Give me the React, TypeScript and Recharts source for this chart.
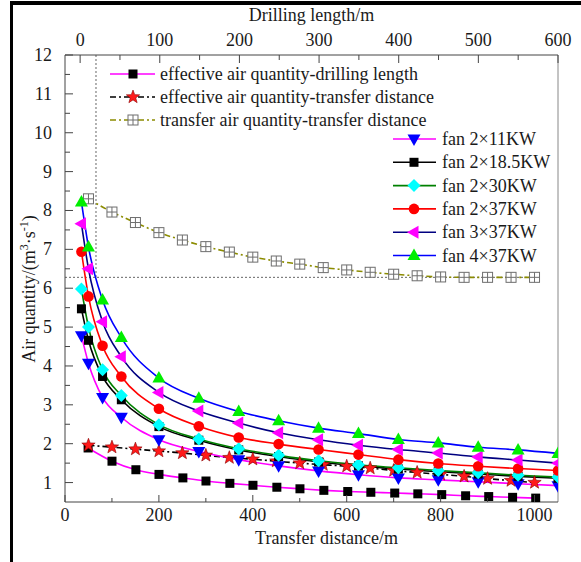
import React from "react";
import { LineChart, Line, XAxis, YAxis, ReferenceLine, Legend } from "recharts";

const FONT = '"Liberation Serif", "Times New Roman", serif';
const TEXT = "#1a1a1a";
const AXIS = "#444";

// transfer distance (m) of the fan curves
const fanDistance = [35, 50, 80, 120, 200, 285, 370, 455, 540, 625, 710, 795, 880, 965, 1050];
const fan2x11 = [4.78, 4.07, 3.19, 2.68, 2.1, 1.8, 1.59, 1.43, 1.3, 1.2, 1.12, 1.07, 1.02, 0.97, 0.92];
const fan2x185 = [5.47, 4.66, 3.73, 3.13, 2.44, 2.09, 1.84, 1.67, 1.53, 1.43, 1.35, 1.28, 1.22, 1.16, 1.11];
const fan2x30 = [5.98, 5.0, 3.9, 3.24, 2.49, 2.12, 1.87, 1.7, 1.56, 1.46, 1.38, 1.31, 1.25, 1.19, 1.14];
const fan2x37 = [6.94, 5.79, 4.52, 3.73, 2.9, 2.45, 2.16, 1.99, 1.85, 1.72, 1.59, 1.49, 1.42, 1.36, 1.31];
const fan3x37 = [7.66, 6.5, 5.14, 4.24, 3.32, 2.84, 2.53, 2.28, 2.1, 1.96, 1.85, 1.76, 1.66, 1.58, 1.5];
const fan4x37 = [8.22, 7.06, 5.7, 4.73, 3.69, 3.17, 2.83, 2.59, 2.4, 2.26, 2.11, 2.02, 1.91, 1.84, 1.75];

// transfer distance (m) of the effective / transfer air quantity curves
const transferDistance = [50, 100, 150, 200, 250, 300, 350, 400, 450, 500, 550, 600, 650, 700, 750, 800, 850, 900, 950, 1000];
const effectiveByTransfer = [1.96, 1.91, 1.86, 1.81, 1.76, 1.7, 1.64, 1.6, 1.55, 1.5, 1.46, 1.42, 1.37, 1.31, 1.26, 1.21, 1.16, 1.1, 1.05, 1.0];
const transferAir = [8.3, 7.96, 7.69, 7.43, 7.24, 7.07, 6.93, 6.8, 6.7, 6.62, 6.53, 6.47, 6.41, 6.36, 6.32, 6.29, 6.28, 6.28, 6.28, 6.28];

// drilling length (m) on the top axis
const drillingLength = [10, 40, 70, 99, 129, 158, 188, 217, 247, 276, 306, 336, 365, 395, 424, 454, 484, 513, 543, 572];
const effectiveByDrilling = [1.89, 1.55, 1.33, 1.21, 1.12, 1.04, 0.98, 0.93, 0.88, 0.84, 0.8, 0.77, 0.75, 0.73, 0.71, 0.69, 0.66, 0.64, 0.62, 0.6];

// axes
const bottomTicks = [0, 100, 200, 300, 400, 500, 600, 700, 800, 900, 1000];
const bottomLabels = [0, 200, 400, 600, 800, 1000];
const topTicks = [0, 50, 100, 150, 200, 250, 300, 350, 400, 450, 500, 550, 600];
const topLabels = [0, 100, 200, 300, 400, 500, 600];
const leftTicks = [1, 1.5, 2, 2.5, 3, 3.5, 4, 4.5, 5, 5.5, 6, 6.5, 7, 7.5, 8, 8.5, 9, 9.5, 10, 10.5, 11, 11.5, 12];
const leftLabels = [1, 2, 3, 4, 5, 6, 7, 8, 9, 10, 11, 12];

// dotted guide lines
const guideDistance = 66;
const guideLevel = 6.28;

type Shape = "up" | "down" | "left" | "circle" | "diamond" | "square" | "star" | "crossSquare";

const zip = (xs: number[], ys: number[]) => xs.map((x, i) => ({ x, y: ys[i] }));

function starPoints(cx: number, cy: number, ro: number, ri: number) {
  const pts: string[] = [];
  for (let i = 0; i < 10; i++) {
    const r = i % 2 === 0 ? ro : ri;
    const a = -Math.PI / 2 + (i * Math.PI) / 5;
    pts.push(`${cx + r * Math.cos(a)},${cy + r * Math.sin(a)}`);
  }
  return pts.join(" ");
}

function Marker({ shape, cx, cy, fill }: { shape: Shape; cx?: number; cy?: number; fill: string }) {
  if (cx == null || cy == null) return null;
  switch (shape) {
    case "up":
      return <polygon points={`${cx},${cy - 7} ${cx + 6.5},${cy + 4.5} ${cx - 6.5},${cy + 4.5}`} fill={fill} />;
    case "down":
      return <polygon points={`${cx - 6.5},${cy - 4.5} ${cx + 6.5},${cy - 4.5} ${cx},${cy + 7}`} fill={fill} />;
    case "left":
      return <polygon points={`${cx - 7},${cy} ${cx + 4.5},${cy - 6.5} ${cx + 4.5},${cy + 6.5}`} fill={fill} />;
    case "circle":
      return <circle cx={cx} cy={cy} r={5.3} fill={fill} />;
    case "diamond":
      return <polygon points={`${cx},${cy - 6.5} ${cx + 6.5},${cy} ${cx},${cy + 6.5} ${cx - 6.5},${cy}`} fill={fill} />;
    case "square":
      return <rect x={cx - 4.5} y={cy - 4.5} width={9} height={9} fill={fill} />;
    case "star":
      return <polygon points={starPoints(cx, cy, 7, 2.9)} fill={fill} stroke="#8a0000" strokeWidth={0.6} />;
    case "crossSquare":
      return (
        <g stroke="#6e6e6e" strokeWidth={1}>
          <rect x={cx - 5} y={cy - 5} width={10} height={10} fill="#fff" />
          <line x1={cx} x2={cx} y1={cy - 5} y2={cy + 5} />
          <line x1={cx - 5} x2={cx + 5} y1={cy} y2={cy} />
        </g>
      );
  }
  return null;
}

const dotOf = (shape: Shape, fill: string) => (p: any) =>
  <Marker key={`m-${p.index}`} shape={shape} cx={p.cx} cy={p.cy} fill={fill} />;

const fanSeries = [
  { name: "fan 2×11KW", values: fan2x11, line: "#ff00ff", shape: "down" as Shape, fill: "#0000ff" },
  { name: "fan 2×18.5KW", values: fan2x185, line: "#000000", shape: "square" as Shape, fill: "#000000" },
  { name: "fan 2×30KW", values: fan2x30, line: "#008000", shape: "diamond" as Shape, fill: "#00ffff" },
  { name: "fan 2×37KW", values: fan2x37, line: "#ff0000", shape: "circle" as Shape, fill: "#ff0000" },
  { name: "fan 3×37KW", values: fan3x37, line: "#000080", shape: "left" as Shape, fill: "#ff00ff" },
  { name: "fan 4×37KW", values: fan4x37, line: "#0000ff", shape: "up" as Shape, fill: "#00ee00" },
];

const otherSeries = [
  { name: "effective air quantity-drilling length", line: "#ff00ff", dash: undefined, shape: "square" as Shape, fill: "#000000" },
  { name: "effective air quantity-transfer distance", line: "#000000", dash: "6 3 2 3", shape: "star" as Shape, fill: "#ff1a1a" },
  { name: "transfer air quantity-transfer distance", line: "#8c8c00", dash: "6 3 2 3", shape: "crossSquare" as Shape, fill: "#fff" },
];

const textProps = { fontFamily: FONT, fontSize: 18, fill: TEXT };

const BottomTick = (p: any) => {
  const major = bottomLabels.includes(p.payload.value);
  return (
    <g>
      <line x1={p.x} x2={p.x} y1={p.y} y2={p.y - (major ? 7 : 4)} stroke={AXIS} />
      {major && (
        <text x={p.x} y={p.y + 19} textAnchor="middle" {...textProps}>
          {p.payload.value}
        </text>
      )}
    </g>
  );
};

const TopTick = (p: any) => {
  const major = topLabels.includes(p.payload.value);
  return (
    <g>
      <line x1={p.x} x2={p.x} y1={p.y} y2={p.y + (major ? 8 : 5)} stroke={AXIS} />
      {major && (
        <text x={p.x} y={p.y - 9} textAnchor="middle" {...textProps}>
          {p.payload.value}
        </text>
      )}
    </g>
  );
};

const LeftTick = (p: any) => {
  const major = leftLabels.includes(p.payload.value);
  return (
    <g>
      <line x1={p.x} x2={p.x + (major ? 8 : 5)} y1={p.y} y2={p.y} stroke={AXIS} />
      {major && (
        <text x={p.x - 13} y={p.y + 6} textAnchor="end" {...textProps}>
          {p.payload.value}
        </text>
      )}
    </g>
  );
};

const BottomTitle = ({ viewBox }: any) => (
  <text x={viewBox.x + viewBox.width / 2 + 15} y={viewBox.y + 42} textAnchor="middle" {...textProps}>
    Transfer distance/m
  </text>
);

const TopTitle = ({ viewBox }: any) => (
  <text x={viewBox.x + viewBox.width / 2} y={viewBox.y + 11} textAnchor="middle" {...textProps}>
    Drilling length/m
  </text>
);

const LeftTitle = ({ viewBox }: any) => {
  const x = viewBox.x + 20;
  const y = 289;
  return (
    <text x={x} y={y} transform={`rotate(-90 ${x} ${y})`} textAnchor="middle" {...textProps}>
      Air quantity/(m
      <tspan dy={-7} fontSize={12}>3</tspan>
      <tspan dy={7}>·s</tspan>
      <tspan dy={-7} fontSize={12}>-1</tspan>
      <tspan dy={7}>)</tspan>
    </text>
  );
};

function LegendOverlay() {
  return (
    <svg width={581} height={562} style={{ position: "absolute", left: 0, top: 0 }}>
      {otherSeries.map((s, i) => {
        const y = 74 + i * 23;
        return (
          <g key={s.name}>
            <line x1={110} x2={155} y1={y} y2={y} stroke={s.line} strokeWidth={1.6} strokeDasharray={s.dash} />
            <Marker shape={s.shape} cx={133} cy={y} fill={s.fill} />
            <text x={160} y={y + 6} {...textProps}>
              {s.name}
            </text>
          </g>
        );
      })}
      {fanSeries.map((s, i) => {
        const y = 139 + i * 23.3;
        return (
          <g key={s.name}>
            <line x1={393} x2={436} y1={y} y2={y} stroke={s.line} strokeWidth={1.6} />
            <Marker shape={s.shape} cx={414} cy={y} fill={s.fill} />
            <text x={442} y={y + 6} {...textProps}>
              {s.name}
            </text>
          </g>
        );
      })}
    </svg>
  );
}

export default function App() {
  return (
    <div style={{ position: "absolute", left: 0, top: 0, width: 581, height: 562, background: "#fff" }}>
      <div
        style={{
          position: "absolute",
          left: 10,
          top: 1,
          right: 0,
          bottom: 0,
          borderTop: "4px solid #000",
          borderLeft: "3px solid #000",
        }}
      />
      <LineChart width={581} height={562} margin={{ top: 10, right: 23, bottom: 10, left: 15 }}>
        <XAxis
          xAxisId="bottom"
          dataKey="x"
          type="number"
          domain={[0, 1050]}
          allowDataOverflow
          ticks={bottomTicks}
          interval={0}
          tickSize={0}
          tickMargin={0}
          tick={BottomTick}
          height={50}
          stroke={AXIS}
          label={<BottomTitle />}
        />
        <XAxis
          xAxisId="top"
          orientation="top"
          dataKey="x"
          type="number"
          domain={[-19, 600]}
          allowDataOverflow
          ticks={topTicks}
          interval={0}
          tickSize={0}
          tickMargin={0}
          tick={TopTick}
          height={45}
          stroke={AXIS}
          label={<TopTitle />}
        />
        <YAxis
          dataKey="y"
          type="number"
          domain={[0.5, 12]}
          allowDataOverflow
          ticks={leftTicks}
          interval={0}
          tickSize={0}
          tickMargin={0}
          tick={LeftTick}
          width={50}
          stroke={AXIS}
          label={<LeftTitle />}
        />
        <ReferenceLine xAxisId="bottom" x={1050} stroke="#888" />
        <ReferenceLine
          xAxisId="bottom"
          segment={[
            { x: guideDistance, y: 12 },
            { x: guideDistance, y: guideLevel },
          ]}
          stroke="#666"
          strokeDasharray="2 2"
        />
        <ReferenceLine
          xAxisId="bottom"
          segment={[
            { x: 0, y: guideLevel },
            { x: 1010, y: guideLevel },
          ]}
          stroke="#666"
          strokeDasharray="2 2"
        />
        <Line
          xAxisId="top"
          data={zip(drillingLength, effectiveByDrilling)}
          dataKey="y"
          type="monotone"
          stroke={otherSeries[0].line}
          strokeWidth={1.6}
          dot={dotOf(otherSeries[0].shape, otherSeries[0].fill)}
          isAnimationActive={false}
        />
        <Line
          xAxisId="bottom"
          data={zip(transferDistance, effectiveByTransfer)}
          dataKey="y"
          type="monotone"
          stroke={otherSeries[1].line}
          strokeWidth={1.6}
          strokeDasharray={otherSeries[1].dash}
          dot={dotOf(otherSeries[1].shape, otherSeries[1].fill)}
          isAnimationActive={false}
        />
        <Line
          xAxisId="bottom"
          data={zip(transferDistance, transferAir)}
          dataKey="y"
          type="monotone"
          stroke={otherSeries[2].line}
          strokeWidth={1.6}
          strokeDasharray={otherSeries[2].dash}
          dot={dotOf(otherSeries[2].shape, otherSeries[2].fill)}
          isAnimationActive={false}
        />
        {fanSeries.map((s) => (
          <Line
            key={s.name}
            xAxisId="bottom"
            data={zip(fanDistance, s.values)}
            dataKey="y"
            type="monotone"
            stroke={s.line}
            strokeWidth={1.6}
            dot={dotOf(s.shape, s.fill)}
            isAnimationActive={false}
          />
        ))}
        <Legend
          layout="vertical"
          align="center"
          verticalAlign="middle"
          wrapperStyle={{ position: "absolute", left: 0, top: 0, width: 581, height: 562, pointerEvents: "none" }}
          content={() => <LegendOverlay />}
        />
      </LineChart>
    </div>
  );
}
